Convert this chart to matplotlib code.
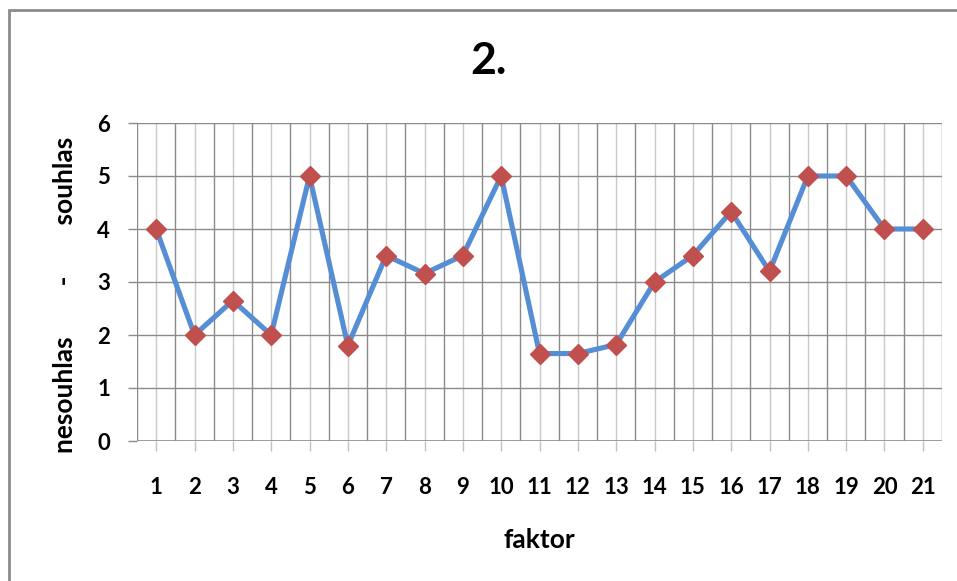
import matplotlib.pyplot as plt
from matplotlib.patches import Rectangle

plt.rcParams['font.family'] = ['Lato', 'DejaVu Sans']

faktor = list(range(1, 22))
hodnoty = [4, 2, 2.65, 2, 5, 1.8, 3.5, 3.16, 3.5, 5,
           1.65, 1.65, 1.82, 3, 3.5, 4.33, 3.2, 5, 5, 4, 4]

fig = plt.figure(figsize=(9.57, 5.81), dpi=100)
ax = fig.add_axes([137/957, 1-441/581, 805/957, 318/581])

# frame around the whole chart
fig.patches.append(Rectangle((9/957, -0.1), 1.1, 1-10/581+0.1, transform=fig.transFigure,
                             fill=False, edgecolor='#8c8c8c', linewidth=2))

ax.plot(faktor, hodnoty, color='#558ED5', linewidth=3.7, zorder=3,
        marker='D', markersize=10.5, markerfacecolor='#C0504D', markeredgecolor='#C0504D')

ax.set_xlim(0.5, 21.5)
ax.set_ylim(0, 6)
ax.set_yticks(range(0, 7))
ax.set_xticks(faktor)

# gridlines: darker between categories, lighter at category centres
for x in [i + 0.5 for i in range(0, 22)]:
    ax.axvline(x, color='#8a8a8a', linewidth=1, zorder=1)
for x in faktor:
    ax.axvline(x, color='#c8c8c8', linewidth=1, zorder=1)
for y in range(1, 7):
    ax.axhline(y, color='#8a8a8a', linewidth=1, zorder=1)

for s in ax.spines.values():
    s.set_visible(False)
ax.axhline(0, color='#8a8a8a', linewidth=1.2, zorder=2)
ax.axvline(0.5, color='#8a8a8a', linewidth=1.2, zorder=2)

ax.tick_params(axis='y', length=6.5, width=1, color='#8a8a8a', pad=13, labelsize=16)
ax.tick_params(axis='x', length=7, width=1, color='#c0c0c0', pad=19, labelsize=16)
for lab in ax.get_xticklabels() + ax.get_yticklabels():
    lab.set_fontweight('bold')

fig.text(488/957, 1-61/581, '2.', fontsize=32, fontweight='bold', ha='center', va='center')

ax.set_xlabel('faktor', fontsize=19, fontweight='bold')
ax.xaxis.set_label_coords(0.5, -99/318)
ax.xaxis.label.set_va('center')
ax.set_ylabel('nesouhlas        -        souhlas', fontsize=19, fontweight='bold')
ax.yaxis.set_label_coords(-72/805, 0.46)
ax.yaxis.label.set_va('center')

fig.savefig('out.png', dpi=100)
